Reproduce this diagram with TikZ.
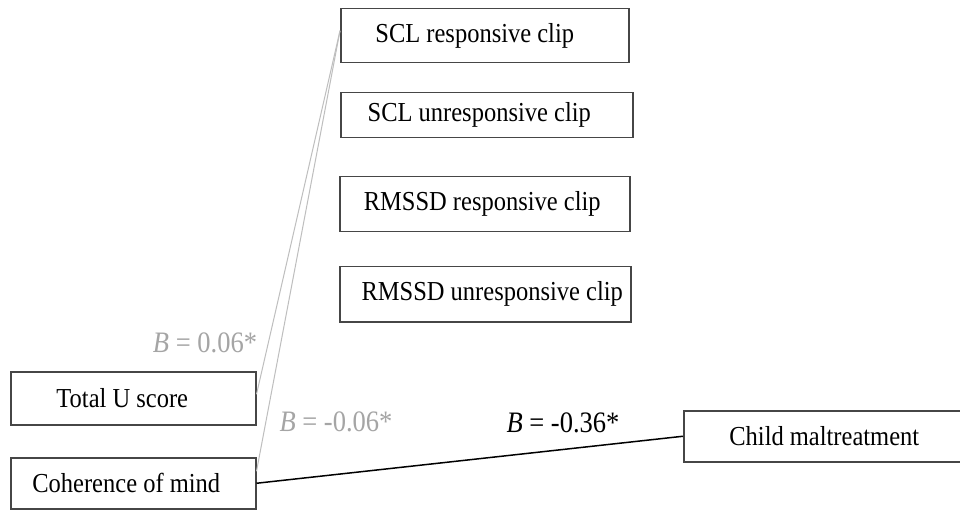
\documentclass[tikz,border=0pt]{standalone}
\usepackage{fontspec}
\setmainfont{Liberation Serif}
\definecolor{boxline}{RGB}{70,70,70}
\definecolor{lightline}{RGB}{190,190,190}
\definecolor{labelgray}{RGB}{165,165,165}
% optional argument: horizontal shift of the text (twice the wanted shift)
\newcommand{\boxtxt}[2][0pt]{\hspace*{#1}\scalebox{1}[1.12]{\fontsize{24.5}{27}\selectfont #2}}
\newcommand{\labtxt}[1]{\scalebox{1}[1.12]{\fontsize{26.5}{29}\selectfont #1}}
\begin{document}
\begin{tikzpicture}[x=1pt,y=-1pt,
  varbox/.style={draw=boxline,line width=1.5pt,rectangle,inner sep=0pt,anchor=north west},
  grayline/.style={draw=lightline,line width=1pt},
  blackline/.style={draw=black,line width=1.5pt},
  graylab/.style={text=labelgray,inner sep=0pt},
  blacklab/.style={text=black,inner sep=0pt}]
\useasboundingbox (0,0) rectangle (960,510);
\clip (0,0) rectangle (960,510);
\fill[white] (0,0) rectangle (960,510);
\node[varbox,minimum width=288pt,minimum height=54pt] (scl1) at (340,8) {\boxtxt[-20pt]{SCL responsive clip}};
\node[varbox,minimum width=292pt,minimum height=45pt] (scl2) at (340,92) {\boxtxt[-15pt]{SCL unresponsive clip}};
\node[varbox,minimum width=290pt,minimum height=55pt] (rm1) at (339,176) {\boxtxt[-5pt]{RMSSD responsive clip}};
\node[varbox,minimum width=291pt,minimum height=55pt] (rm2) at (339,266) {\boxtxt[14pt]{RMSSD unresponsive clip}};
\node[varbox,minimum width=245pt,minimum height=53pt] (tot) at (10,371) {\boxtxt[-22pt]{Total U score}};
\node[varbox,minimum width=245pt,minimum height=51pt] (coh) at (10,457) {\boxtxt[-14pt]{Coherence of mind}};
\node[varbox,minimum width=285pt,minimum height=51pt] (child) at (683,410) {\boxtxt[-4pt]{Child maltreatment}};
\draw[grayline] ([yshift=5pt]scl1.west) -- ([yshift=4pt]tot.east);
\draw[grayline] ([yshift=5pt]scl1.west) -- ([yshift=12pt]coh.east);
\draw[blackline] (coh.east) -- (child.west);
\node[graylab] (l1) at (205,343) {\labtxt{\textit{B} = 0.06*}};
\node[graylab] (l2) at (336,422) {\labtxt{\textit{B} = -0.06*}};
\node[blacklab] (l3) at (563,423) {\labtxt{\textit{B} = -0.36*}};
\end{tikzpicture}
\end{document}
